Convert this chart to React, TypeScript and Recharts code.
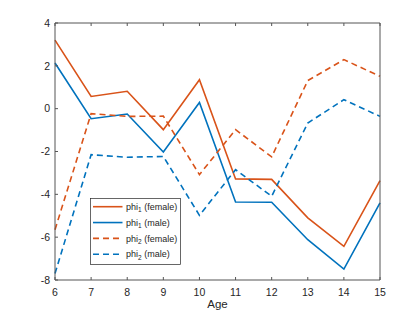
import React from 'react';
import { LineChart, Line, XAxis, YAxis, Customized } from 'recharts';

const ages = [6, 7, 8, 9, 10, 11, 12, 13, 14, 15];
const phi1Female = [3.2, 0.57, 0.81, -0.98, 1.35, -3.28, -3.3, -5.1, -6.43, -3.36];
const phi1Male = [2.13, -0.47, -0.25, -2.02, 0.29, -4.36, -4.37, -6.12, -7.49, -4.4];
const phi2Female = [-5.65, -0.23, -0.36, -0.35, -3.08, -0.98, -2.25, 1.31, 2.29, 1.51];
const phi2Male = [-7.7, -2.15, -2.27, -2.23, -4.98, -2.85, -4.09, -0.67, 0.42, -0.36];
const xTicks = [6, 7, 8, 9, 10, 11, 12, 13, 14, 15];
const yTicks = [-8, -6, -4, -2, 0, 2, 4];

const ORANGE = '#D95319';
const BLUE = '#0072BD';

const legendSubs = ['1', '1', '2', '2'];
const legendWho = ['female', 'male', 'female', 'male'];
const legendColors = [ORANGE, BLUE, ORANGE, BLUE];
const legendDash = [undefined, undefined, '6 4', '6 4'];

const data = ages.map((a, i) => ({
  age: a,
  p1f: phi1Female[i],
  p1m: phi1Male[i],
  p2f: phi2Female[i],
  p2m: phi2Male[i],
}));

const AXIS = '#555';
const TEXT = '#262626';
const TL = 3;
const XM = 8.5;
const YM = 5;

const BottomTick = (p: any) => (
  <g>
    <line x1={p.x} x2={p.x} y1={p.y - XM} y2={p.y - XM - TL} stroke={AXIS} strokeWidth={1} />
    <text x={p.x} y={p.y} dy="0.71em" textAnchor="middle" fontSize={10.5} fill={TEXT}>
      {p.payload.value}
    </text>
  </g>
);
const LeftTick = (p: any) => (
  <g>
    <line x1={p.x + YM} x2={p.x + YM + TL} y1={p.y} y2={p.y} stroke={AXIS} strokeWidth={1} />
    <text x={p.x} y={p.y} dy="0.355em" textAnchor="end" fontSize={10.5} fill={TEXT}>
      {p.payload.value}
    </text>
  </g>
);
const TopTick = (p: any) => (
  <line x1={p.x} x2={p.x} y1={p.y} y2={p.y + TL} stroke={AXIS} strokeWidth={1} />
);
const RightTick = (p: any) => (
  <line x1={p.x} x2={p.x - TL} y1={p.y} y2={p.y} stroke={AXIS} strokeWidth={1} />
);

const LegendBox = () => (
  <g>
    <rect x={90.5} y={198.5} width={90} height={66} fill="#fff" stroke={TEXT} strokeWidth={0.7} />
    {legendSubs.map((s, i) => {
      const cy = 206.7 + i * 15.85;
      return (
        <g key={i}>
          <line x1={93} x2={122.5} y1={cy} y2={cy} stroke={legendColors[i]} strokeWidth={1.6} strokeDasharray={legendDash[i]} />
          <text x={126} y={cy + 3.2} fontSize={9} fill={TEXT}>
            phi
            <tspan fontSize={6.5} dy={2.5}>{s}</tspan>
            <tspan dy={-2.5}>{` (${legendWho[i]})`}</tspan>
          </text>
        </g>
      );
    })}
  </g>
);

export default function App() {
  return (
    <div style={{ position: 'absolute', left: 0, top: 0, width: 420, height: 315, background: '#fff' }}>
      <LineChart
        width={420}
        height={315}
        data={data}
        margin={{ top: 22, right: 39, bottom: 0, left: 0 }}
        style={{ fontFamily: '"Liberation Sans", Arial, sans-serif' }}
      >
        <XAxis
          xAxisId="b"
          dataKey="age"
          type="number"
          domain={[6, 15]}
          ticks={xTicks}
          height={35}
          tickSize={0}
          tickMargin={XM}
          tickLine={false}
          stroke={AXIS}
          tick={<BottomTick />}
          label={{ value: 'Age', position: 'insideBottom', offset: 7, fill: TEXT, fontSize: 11.5 }}
        />
        <XAxis
          xAxisId="t"
          orientation="top"
          dataKey="age"
          type="number"
          domain={[6, 15]}
          ticks={xTicks}
          height={1}
          tickSize={0}
          tickMargin={0}
          tickLine={false}
          stroke={AXIS}
          tick={<TopTick />}
        />
        <YAxis
          yAxisId="l"
          type="number"
          domain={[-8, 4]}
          ticks={yTicks}
          width={55}
          tickSize={0}
          tickMargin={YM}
          tickLine={false}
          stroke={AXIS}
          tick={<LeftTick />}
        />
        <YAxis
          yAxisId="r"
          orientation="right"
          type="number"
          domain={[-8, 4]}
          ticks={yTicks}
          width={1}
          tickSize={0}
          tickMargin={0}
          tickLine={false}
          stroke={AXIS}
          tick={<RightTick />}
        />
        <Line xAxisId="b" yAxisId="l" dataKey="p1f" stroke={ORANGE} strokeWidth={1.6} dot={false} isAnimationActive={false} />
        <Line xAxisId="b" yAxisId="l" dataKey="p1m" stroke={BLUE} strokeWidth={1.6} dot={false} isAnimationActive={false} />
        <Line xAxisId="b" yAxisId="l" dataKey="p2f" stroke={ORANGE} strokeWidth={1.6} strokeDasharray="6 4" dot={false} isAnimationActive={false} />
        <Line xAxisId="b" yAxisId="l" dataKey="p2m" stroke={BLUE} strokeWidth={1.6} strokeDasharray="6 4" dot={false} isAnimationActive={false} />
        <Customized component={LegendBox} />
      </LineChart>
    </div>
  );
}
